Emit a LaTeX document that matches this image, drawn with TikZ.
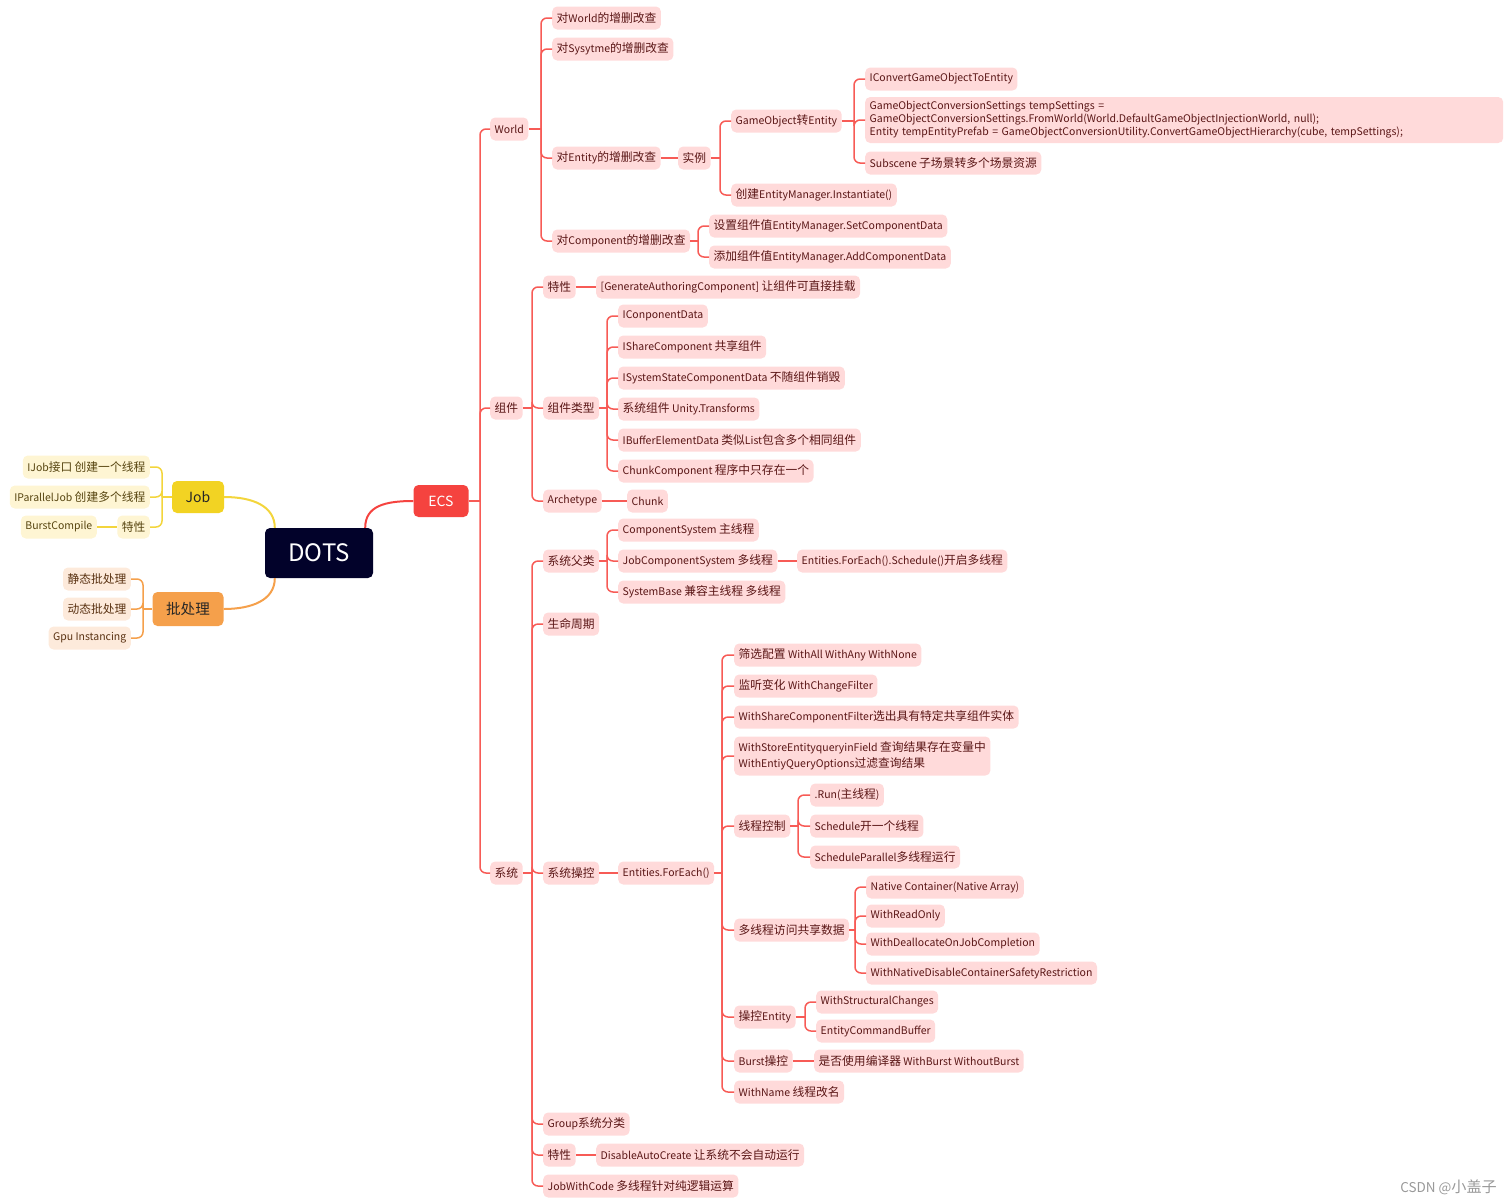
\documentclass[tikz,border=0pt]{standalone}
\usepackage{fontspec}
\setmainfont{Noto Sans CJK SC}
\newfontfamily\hanfont{Noto Sans CJK SC}[Scale=1.12]
% slightly larger Han characters than Latin ones
\XeTeXinterchartokenstate=1
\newXeTeXintercharclass\hanclass
\newcount\hanidx
\hanidx="4E00
\loop
  \XeTeXcharclass\hanidx=\hanclass
  \advance\hanidx by 1
\ifnum\hanidx<"A000 \repeat
\XeTeXinterchartoks 0 \hanclass = {\hanfont}
\XeTeXinterchartoks 4095 \hanclass = {\hanfont}
\XeTeXinterchartoks \hanclass 0 = {\rmfamily}
\XeTeXinterchartoks \hanclass 4095 = {\rmfamily}
\definecolor{ecsred}{HTML}{F5433F}
\definecolor{redline}{HTML}{F75B56}
\definecolor{pinkbg}{HTML}{FFDADA}
\definecolor{pinktxt}{HTML}{5A1616}
\definecolor{dotsbg}{HTML}{02022A}
\definecolor{jobbg}{HTML}{F2D323}
\definecolor{jobline}{HTML}{F3D53C}
\definecolor{jobleafbg}{HTML}{FEF5D3}
\definecolor{jobtxt}{HTML}{574510}
\definecolor{batchbg}{HTML}{F5A04B}
\definecolor{batchleafbg}{HTML}{FDEADB}
\definecolor{batchtxt}{HTML}{5A3212}
\begin{document}
\begin{tikzpicture}[x=1pt,y=-1pt,
    leaf/.style={anchor=west,fill=pinkbg,text=pinktxt,rounded corners=5pt,
      inner xsep=4.5pt,inner ysep=0pt,minimum height=23pt,
      font=\fontsize{10.5}{13}\selectfont},
    jobleaf/.style={leaf,anchor=east,fill=jobleafbg,text=jobtxt},
    batchleaf/.style={leaf,anchor=east,fill=batchleafbg,text=batchtxt},
    topic/.style={rounded corners=5pt,inner sep=0pt,font=\fontsize{14}{16}\selectfont},
    branch/.style={draw=redline,line width=1.5pt,rounded corners=6pt},
    jobbranch/.style={branch,draw=jobline},
    batchbranch/.style={branch,draw=batchbg}]
  \useasboundingbox (0,0) rectangle (1512,1203);

  % centre and main topics
  \path
    (319,553) node[topic,fill=dotsbg,text=white,minimum width=108pt,minimum height=50pt,
      font=\fontsize{24}{26}\selectfont] (dots){DOTS}
    (441,501) node[topic,fill=ecsred,text=white,minimum width=55pt,minimum height=32pt] (ecs){ECS}
    (198,497) node[topic,fill=jobbg,text=black!85,minimum width=52pt,minimum height=32pt] (job){Job}
    (188,609) node[topic,fill=batchbg,text=black!85,minimum width=71pt,minimum height=34pt,
      font=\fontsize{13}{15}\selectfont] (batch){批处理};

  % Job
  \path
    (150,467) node[jobleaf] (jb1){IJob接口 创建一个线程}
    (150,497) node[jobleaf] (jb2){IParallelJob 创建多个线程}
    (150,527) node[jobleaf] (jb3){特性}
    (97,527) node[jobleaf] (jb4){BurstCompile};

  % batching
  \path
    (131,579) node[batchleaf] (bt1){静态批处理}
    (131,609) node[batchleaf] (bt2){动态批处理}
    (131,638) node[batchleaf] (bt3){Gpu Instancing};

  % ECS
  \path
    (490,129) node[leaf] (world){World}
    (490,408) node[leaf] (comp){组件}
    (490,873) node[leaf] (sys){系统};

  % World
  \path
    (552,18) node[leaf] (w1){对World的增删改查}
    (552,49) node[leaf] (w2){对Sysytme的增删改查}
    (552,158) node[leaf] (w3){对Entity的增删改查}
    (552,241) node[leaf] (w4){对Component的增删改查}
    (678,158) node[leaf] (inst){实例}
    (731,121) node[leaf] (go){GameObject转Entity}
    (731,195) node[leaf] (inst2){创建EntityManager.Instantiate()}
    (865,79) node[leaf] (go1){IConvertGameObjectToEntity}
    (865,120) node[leaf,text width=629pt,align=left,minimum height=46pt] (go2){GameObjectConversionSettings tempSettings =\\
      GameObjectConversionSettings.FromWorld(World.DefaultGameObjectInjectionWorld, null);\\
      Entity tempEntityPrefab = GameObjectConversionUtility.ConvertGameObjectHierarchy(cube, tempSettings);}
    (865,163) node[leaf] (go3){Subscene 子场景转多个场景资源}
    (709,226) node[leaf] (wc1){设置组件值EntityManager.SetComponentData}
    (709,257) node[leaf] (wc2){添加组件值EntityManager.AddComponentData};

  % components
  \path
    (543,287) node[leaf] (c1){特性}
    (596,287) node[leaf] (c1a){[GenerateAuthoringComponent] 让组件可直接挂载}
    (543,408) node[leaf] (c2){组件类型}
    (543,501) node[leaf] (c3){Archetype}
    (627,501) node[leaf] (c3a){Chunk}
    (618,316) node[leaf] (ct1){IConponentData}
    (618,347) node[leaf] (ct2){IShareComponent 共享组件}
    (618,378) node[leaf] (ct3){ISystemStateComponentData 不随组件销毁}
    (618,409) node[leaf] (ct4){系统组件 Unity.Transforms}
    (618,440) node[leaf] (ct5){IBufferElementData 类似List包含多个相同组件}
    (618,471) node[leaf] (ct6){ChunkComponent 程序中只存在一个};

  % systems
  \path
    (543,561) node[leaf] (s1){系统父类}
    (543,624) node[leaf] (s2){生命周期}
    (543,873) node[leaf] (s3){系统操控}
    (543,1124) node[leaf] (s4){Group系统分类}
    (543,1155) node[leaf] (s5){特性}
    (543,1186) node[leaf] (s6){JobWithCode 多线程针对纯逻辑运算}
    (596,1155) node[leaf] (s5a){DisableAutoCreate 让系统不会自动运行}
    (618,530) node[leaf] (sb1){ComponentSystem 主线程}
    (618,561) node[leaf] (sb2){JobComponentSystem 多线程}
    (618,592) node[leaf] (sb3){SystemBase 兼容主线程 多线程}
    (797,561) node[leaf] (sb2a){Entities.ForEach().Schedule()开启多线程}
    (618,873) node[leaf] (fe){Entities.ForEach()};

  % Entities.ForEach()
  \path
    (734,655) node[leaf] (f1){筛选配置 WithAll WithAny WithNone}
    (734,686) node[leaf] (f2){监听变化 WithChangeFilter}
    (734,717) node[leaf] (f3){WithShareComponentFilter选出具有特定共享组件实体}
    (734,756) node[leaf,align=left,minimum height=39pt,
      font=\fontsize{10.5}{16}\selectfont] (f4){WithStoreEntityqueryinField 查询结果存在变量中\\WithEntiyQueryOptions过滤查询结果}
    (734,826) node[leaf] (f5){线程控制}
    (734,930) node[leaf] (f6){多线程访问共享数据}
    (734,1017) node[leaf] (f7){操控Entity}
    (734,1061) node[leaf] (f8){Burst操控}
    (734,1092) node[leaf] (f9){WithName 线程改名}
    (810,795) node[leaf] (th1){.Run(主线程)}
    (810,826) node[leaf] (th2){Schedule开一个线程}
    (810,857) node[leaf] (th3){ScheduleParallel多线程运行}
    (866,887) node[leaf] (mt1){Native Container(Native Array)}
    (866,916) node[leaf] (mt2){WithReadOnly}
    (866,944) node[leaf] (mt3){WithDeallocateOnJobCompletion}
    (866,973) node[leaf] (mt4){WithNativeDisableContainerSafetyRestriction}
    (816,1002) node[leaf] (ce1){WithStructuralChanges}
    (816,1031) node[leaf] (ce2){EntityCommandBuffer}
    (814,1061) node[leaf] (f8a){是否使用编译器 WithBurst WithoutBurst};

  \node[anchor=east,inner sep=0pt,text=black!40,font=\fontsize{13.5}{15}\selectfont] (mark) at (1497,1187) {CSDN @小盖子};

  % fork points
  \coordinate (j-job) at (162,497);
  \coordinate (j-batch) at (143,609);
  \coordinate (j-ecs) at (480,501);
  \coordinate (j-world) at (541,129);
  \coordinate (j-inst) at (720,158);
  \coordinate (j-go) at (854,121);
  \coordinate (j-wc) at (698,241);
  \coordinate (j-comp) at (532,408);
  \coordinate (j-ctype) at (607,408);
  \coordinate (j-sys) at (532,873);
  \coordinate (j-sbase) at (607,561);
  \coordinate (j-fe) at (722,873);
  \coordinate (j-th) at (798,826);
  \coordinate (j-mt) at (855,930);
  \coordinate (j-ce) at (805,1017);

  % curves out of DOTS
  \draw[draw=ecsred,line width=2pt] ([xshift=-8pt]dots.north east) .. controls +(0,-22) and +(-28,0) .. (ecs.west);
  \draw[draw=jobline,line width=2pt] ([xshift=10pt]dots.north west) .. controls +(0,-22) and +(28,0) .. (job.east);
  \draw[draw=batchbg,line width=2pt] ([xshift=10pt]dots.south west) .. controls +(0,22) and +(28,0) .. (batch.east);

  \begin{scope}[jobbranch]
    \draw (job.west) -- (j-job);
    \draw (j-job) |- (jb1.east);
    \draw (j-job) |- (jb2.east);
    \draw (j-job) |- (jb3.east);
    \draw (jb3.west) -- (jb4.east);
  \end{scope}
  \begin{scope}[batchbranch]
    \draw (batch.west) -- (j-batch);
    \draw (j-batch) |- (bt1.east);
    \draw (j-batch) |- (bt2.east);
    \draw (j-batch) |- (bt3.east);
  \end{scope}

  \begin{scope}[branch]
    \draw (ecs.east) -- (j-ecs);
    \draw (j-ecs) |- (world.west);
    \draw (j-ecs) |- (comp.west);
    \draw (j-ecs) |- (sys.west);
    % World
    \draw (world.east) -- (j-world);
    \draw (j-world) |- (w1.west);
    \draw (j-world) |- (w2.west);
    \draw (j-world) |- (w3.west);
    \draw (j-world) |- (w4.west);
    \draw (w3.east) -- (inst.west);
    \draw (inst.east) -- (j-inst);
    \draw (j-inst) |- (go.west);
    \draw (j-inst) |- (inst2.west);
    \draw (go.east) -- (j-go);
    \draw (j-go) |- (go1.west);
    \draw (j-go) |- (go2.west);
    \draw (j-go) |- (go3.west);
    \draw (w4.east) -- (j-wc);
    \draw (j-wc) |- (wc1.west);
    \draw (j-wc) |- (wc2.west);
    % components
    \draw (comp.east) -- (j-comp);
    \draw (j-comp) |- (c1.west);
    \draw (j-comp) |- (c2.west);
    \draw (j-comp) |- (c3.west);
    \draw (c1.east) -- (c1a.west);
    \draw (c3.east) -- (c3a.west);
    \draw (c2.east) -- (j-ctype);
    \draw (j-ctype) |- (ct1.west);
    \draw (j-ctype) |- (ct2.west);
    \draw (j-ctype) |- (ct3.west);
    \draw (j-ctype) |- (ct4.west);
    \draw (j-ctype) |- (ct5.west);
    \draw (j-ctype) |- (ct6.west);
    % systems
    \draw (sys.east) -- (j-sys);
    \draw (j-sys) |- (s1.west);
    \draw (j-sys) |- (s2.west);
    \draw (j-sys) |- (s3.west);
    \draw (j-sys) |- (s4.west);
    \draw (j-sys) |- (s5.west);
    \draw (j-sys) |- (s6.west);
    \draw (s5.east) -- (s5a.west);
    \draw (s1.east) -- (j-sbase);
    \draw (j-sbase) |- (sb1.west);
    \draw (j-sbase) |- (sb2.west);
    \draw (j-sbase) |- (sb3.west);
    \draw (sb2.east) -- (sb2a.west);
    \draw (s3.east) -- (fe.west);
    \draw (fe.east) -- (j-fe);
    \draw (j-fe) |- (f1.west);
    \draw (j-fe) |- (f2.west);
    \draw (j-fe) |- (f3.west);
    \draw (j-fe) |- (f4.west);
    \draw (j-fe) |- (f5.west);
    \draw (j-fe) |- (f6.west);
    \draw (j-fe) |- (f7.west);
    \draw (j-fe) |- (f8.west);
    \draw (j-fe) |- (f9.west);
    \draw (f5.east) -- (j-th);
    \draw (j-th) |- (th1.west);
    \draw (j-th) |- (th2.west);
    \draw (j-th) |- (th3.west);
    \draw (f6.east) -- (j-mt);
    \draw (j-mt) |- (mt1.west);
    \draw (j-mt) |- (mt2.west);
    \draw (j-mt) |- (mt3.west);
    \draw (j-mt) |- (mt4.west);
    \draw (f7.east) -- (j-ce);
    \draw (j-ce) |- (ce1.west);
    \draw (j-ce) |- (ce2.west);
    \draw (f8.east) -- (f8a.west);
  \end{scope}
\end{tikzpicture}
\end{document}
